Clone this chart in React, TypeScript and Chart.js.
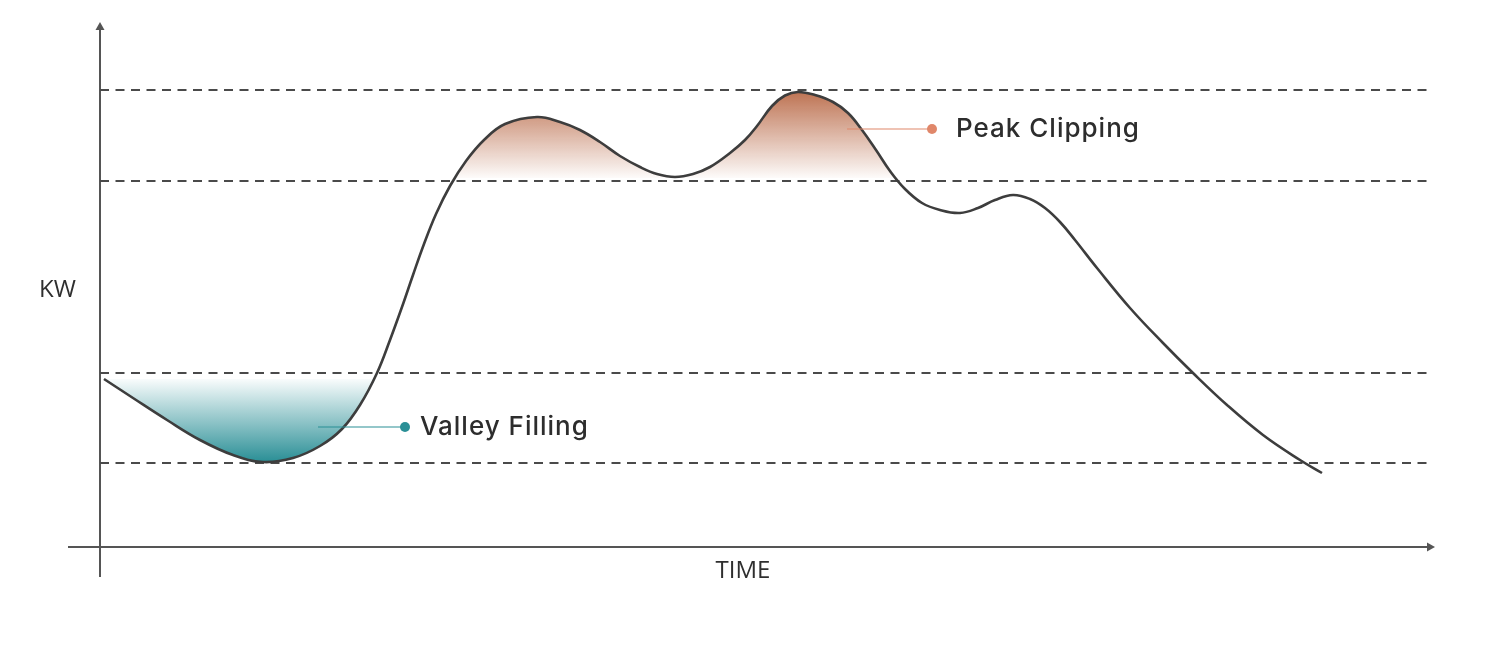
import React, { useEffect, useRef } from "react";
import { Chart, registerables } from "chart.js";

Chart.register(...registerables);

// ---- data (time units along x, kW along y) ----
const timeValues = [
  0.4, 3.3, 6.7, 10.0, 13.3, 16.3, 19.3, 22.0, 24.2, 26.0, 27.7, 29.0, 30.2, 31.3, 32.4, 33.6,
  35.0, 36.6, 38.4, 40.5, 43.7, 46.0, 48.0, 50.0, 52.0, 54.0, 55.7, 57.5, 59.3, 61.0,
  63.0, 64.5, 65.7, 67.2, 68.5, 69.8, 71.5, 73.3, 74.8, 76.2, 77.6, 79.0, 80.5, 82.2, 84.0,
  86.0, 87.8, 89.5, 91.3, 93.0, 94.5, 96.0, 97.5, 99.7, 103.0, 106.3, 109.3, 112.7, 116.3,
  120.0, 122.2,
];
const kwValues = [
  33.6, 29.8, 25.4, 21.4, 18.4, 17.0, 17.8, 20.2, 23.6, 28.4, 34.8, 41.4, 48.0, 54.4, 60.6, 66.6,
  72.2, 77.2, 81.4, 84.6, 86.0, 85.0, 83.4, 81.0, 78.2, 76.0, 74.6, 74.0, 74.6, 76.0,
  78.8, 81.4, 84.2, 88.2, 90.3, 91.0, 90.4, 89.0, 86.8, 83.4, 79.4, 75.2, 71.6, 68.8, 67.4,
  66.8, 67.8, 69.4, 70.4, 69.6, 67.8, 65.0, 61.4, 55.8, 47.8, 40.8, 34.8, 28.4, 22.4,
  17.4, 14.8,
];

const levelValues = [91.4, 73.2, 34.8, 16.8];
const levelStartX = 0;
const levelEndX = 133.3;

// valley fill covers only the morning trough
const valleyPointCount = 14;
const valleyFillLevel = 33.6;
const valleyFillBottom = 17.0;
const peakFillLevel = 73.8;
const peakFillTop = 91.0;

const axisTitles = ["KW", "TIME"];
const timeTitleX = 64.3;
const calloutLabels = ["Peak Clipping", "Valley Filling"];
const calloutStartX = [74.7, 21.8];
const calloutDotX = [83.2, 30.5];
const calloutTextX = [85.6, 32.0];
const calloutY = [83.6, 24.0];
const calloutColors = ["#e0876a", "#2a8f96"];

const X_MIN = 0;
const X_MAX = 133.5;
const Y_MIN = 0;
const Y_MAX = 105;

const curvePoints = timeValues.map((t, i) => ({ x: t, y: kwValues[i] }));
const valleyPoints = curvePoints.slice(0, valleyPointCount);

const overlayPlugin = {
  id: "overlay",
  beforeDatasetsDraw(chart: any) {
    const { ctx, chartArea, scales } = chart;
    const x0 = scales.x.getPixelForValue(X_MIN);
    const y0 = scales.y.getPixelForValue(Y_MIN);
    ctx.save();
    ctx.strokeStyle = "#555555";
    ctx.fillStyle = "#555555";
    ctx.lineWidth = 2;
    // y axis
    ctx.beginPath();
    ctx.moveTo(x0, y0 + 30);
    ctx.lineTo(x0, chartArea.top + 6);
    ctx.stroke();
    ctx.beginPath();
    ctx.moveTo(x0, chartArea.top);
    ctx.lineTo(x0 - 4.5, chartArea.top + 8);
    ctx.lineTo(x0 + 4.5, chartArea.top + 8);
    ctx.closePath();
    ctx.fill();
    // x axis
    ctx.beginPath();
    ctx.moveTo(x0 - 32, y0);
    ctx.lineTo(chartArea.right - 6, y0);
    ctx.stroke();
    ctx.beginPath();
    ctx.moveTo(chartArea.right, y0);
    ctx.lineTo(chartArea.right - 8, y0 - 4.5);
    ctx.lineTo(chartArea.right - 8, y0 + 4.5);
    ctx.closePath();
    ctx.fill();

    // axis titles
    ctx.fillStyle = "#2f2f2f";
    ctx.font = "24px 'Open Sans'";
    ctx.textBaseline = "middle";
    ctx.textAlign = "left";
    ctx.fillText(axisTitles[0], 39, scales.y.getPixelForValue((Y_MIN + Y_MAX) / 2) + 6);
    ctx.textAlign = "center";
    ctx.textBaseline = "top";
    ctx.fillText(axisTitles[1], scales.x.getPixelForValue(timeTitleX), y0 + 12);
    ctx.restore();
  },
  afterDatasetsDraw(chart: any) {
    const { ctx, scales } = chart;
    ctx.save();
    calloutLabels.forEach((label, i) => {
      const xs = scales.x.getPixelForValue(calloutStartX[i]);
      const xd = scales.x.getPixelForValue(calloutDotX[i]);
      const xt = scales.x.getPixelForValue(calloutTextX[i]);
      const y = scales.y.getPixelForValue(calloutY[i]);
      ctx.strokeStyle = calloutColors[i];
      ctx.lineWidth = 1.2;
      ctx.beginPath();
      ctx.moveTo(xs, y);
      ctx.lineTo(xd, y);
      ctx.stroke();
      ctx.fillStyle = calloutColors[i];
      ctx.beginPath();
      ctx.arc(xd, y, 5, 0, Math.PI * 2);
      ctx.fill();
      ctx.fillStyle = "#2d2d2d";
      ctx.font = "500 26px Inter";
      (ctx as any).letterSpacing = "1px";
      ctx.textAlign = "left";
      ctx.textBaseline = "middle";
      ctx.fillText(label, xt, y);
    });
    ctx.restore();
  },
};

function valleyGradient(context: any) {
  const chart = context.chart;
  if (!chart.chartArea) return "rgba(0,0,0,0)";
  const y = chart.scales.y;
  const g = chart.ctx.createLinearGradient(
    0,
    y.getPixelForValue(valleyFillLevel),
    0,
    y.getPixelForValue(valleyFillBottom)
  );
  g.addColorStop(0, "rgba(42,143,150,0.03)");
  g.addColorStop(1, "rgba(42,143,150,1)");
  return g;
}

function peakGradient(context: any) {
  const chart = context.chart;
  if (!chart.chartArea) return "rgba(0,0,0,0)";
  const y = chart.scales.y;
  const g = chart.ctx.createLinearGradient(
    0,
    y.getPixelForValue(peakFillTop),
    0,
    y.getPixelForValue(peakFillLevel)
  );
  g.addColorStop(0, "rgba(190,116,84,1)");
  g.addColorStop(1, "rgba(190,116,84,0.03)");
  return g;
}

export default function App() {
  const canvasRef = useRef<HTMLCanvasElement | null>(null);

  useEffect(() => {
    if (!canvasRef.current) return;
    const levelDatasets = levelValues.map((v) => ({
      data: [
        { x: levelStartX, y: v },
        { x: levelEndX, y: v },
      ],
      borderColor: "#4a4a4a",
      borderWidth: 2,
      borderDash: [9, 6.5],
      pointRadius: 0,
      tension: 0,
      fill: false,
      order: 5,
    }));
    const curveStyle = { pointRadius: 0, tension: 0.4 };
    const chart = new Chart(canvasRef.current, {
      type: "line",
      data: {
        datasets: [
          {
            ...curveStyle,
            data: curvePoints,
            borderColor: "#3d3d3d",
            borderWidth: 2.6,
            fill: false,
            order: 0,
          },
          {
            ...curveStyle,
            data: valleyPoints,
            borderWidth: 0,
            borderColor: "rgba(0,0,0,0)",
            backgroundColor: valleyGradient,
            fill: { target: { value: valleyFillLevel }, above: "rgba(0,0,0,0)" },
            order: 2,
          },
          {
            ...curveStyle,
            data: curvePoints,
            borderWidth: 0,
            borderColor: "rgba(0,0,0,0)",
            backgroundColor: peakGradient,
            fill: { target: { value: peakFillLevel }, below: "rgba(0,0,0,0)" },
            order: 3,
          },
          ...levelDatasets,
        ] as any,
      },
      options: {
        animation: false,
        responsive: false,
        layout: { padding: { left: 100, right: 65, top: 22, bottom: 125 } },
        scales: {
          x: { type: "linear", min: X_MIN, max: X_MAX, display: false },
          y: { type: "linear", min: Y_MIN, max: Y_MAX, display: false },
        },
        plugins: {
          legend: { display: false },
          tooltip: { enabled: false },
        },
        events: [],
      } as any,
      plugins: [overlayPlugin],
    });
    return () => chart.destroy();
  }, []);

  return (
    <div style={{ position: "absolute", left: 0, top: 0, width: 1500, height: 672, background: "#ffffff" }}>
      <canvas ref={canvasRef} width={1500} height={672} style={{ width: 1500, height: 672 }} />
    </div>
  );
}
